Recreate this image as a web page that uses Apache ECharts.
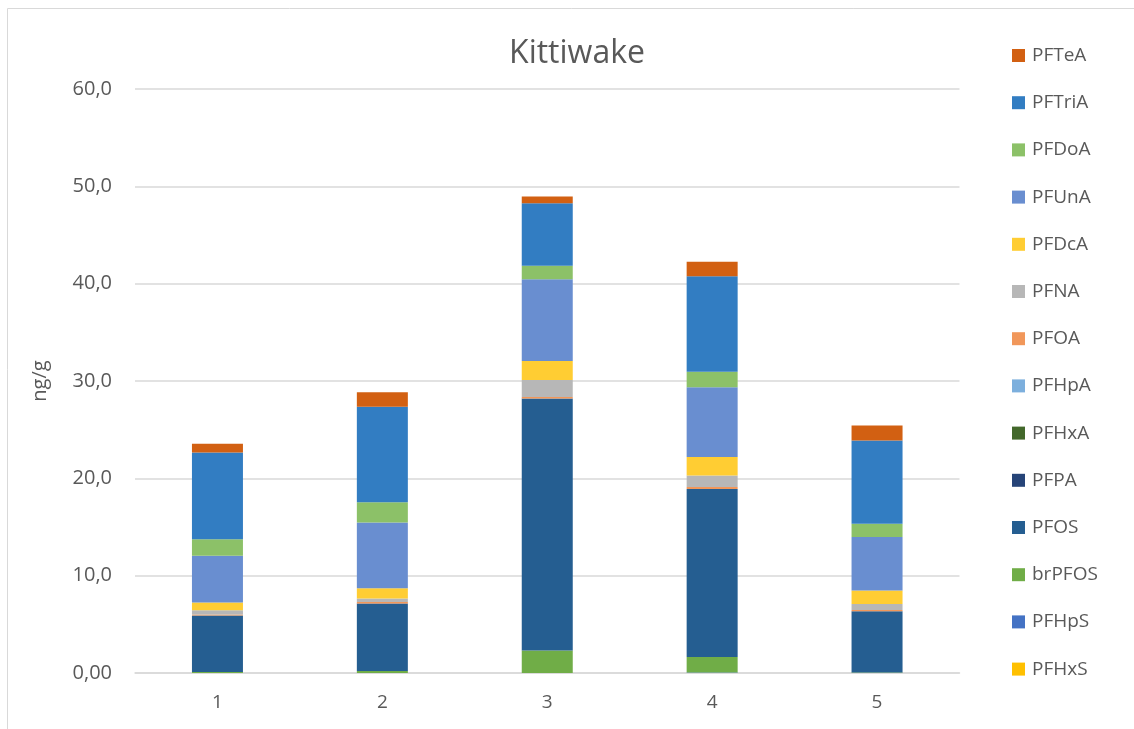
<!DOCTYPE html>
<html>
<head>
<meta charset="utf-8">
<script src="https://cdn.jsdelivr.net/npm/echarts@6/dist/echarts.min.js"></script>
<style>
  html, body { margin: 0; padding: 0; background: #ffffff; }
  #chart { width: 1134px; height: 729px; }
</style>
</head>
<body>
<div id="chart"></div>
<script>
// Sampling sites along the x axis
const categories = ['1', '2', '3', '4', '5'];

// Compound concentrations (ng/g), stacked bottom to top in this order
const PFHxS  = [0.00, 0.00, 0.00, 0.00, 0.00];
const PFHpS  = [0.00, 0.00, 0.00, 0.05, 0.00];
const brPFOS = [0.10, 0.20, 2.30, 1.60, 0.05];
const PFOS   = [5.80, 6.90, 25.90, 17.25, 6.30];
const PFPA   = [0.00, 0.05, 0.00, 0.00, 0.00];
const PFHxA  = [0.00, 0.00, 0.00, 0.00, 0.00];
const PFHpA  = [0.00, 0.00, 0.00, 0.00, 0.00];
const PFOA   = [0.10, 0.15, 0.15, 0.20, 0.13];
const PFNA   = [0.45, 0.35, 1.75, 1.20, 0.60];
const PFDcA  = [0.80, 1.05, 1.95, 1.90, 1.40];
const PFUnA  = [4.80, 6.75, 8.40, 7.15, 5.50];
const PFDoA  = [1.70, 2.10, 1.40, 1.60, 1.35];
const PFTriA = [8.90, 9.80, 6.40, 9.80, 8.55];
const PFTeA  = [0.90, 1.50, 0.70, 1.50, 1.55];

const yTicks = [0, 10, 20, 30, 40, 50, 60];

const seriesDefs = [
  ['PFHxS',  PFHxS,  '#FFC000'],
  ['PFHpS',  PFHpS,  '#4472C4'],
  ['brPFOS', brPFOS, '#70AD47'],
  ['PFOS',   PFOS,   '#255E91'],
  ['PFPA',   PFPA,   '#264478'],
  ['PFHxA',  PFHxA,  '#43682B'],
  ['PFHpA',  PFHpA,  '#7CAFDD'],
  ['PFOA',   PFOA,   '#F1975A'],
  ['PFNA',   PFNA,   '#B7B7B7'],
  ['PFDcA',  PFDcA,  '#FFCD33'],
  ['PFUnA',  PFUnA,  '#698ED0'],
  ['PFDoA',  PFDoA,  '#8CC168'],
  ['PFTriA', PFTriA, '#327DC2'],
  ['PFTeA',  PFTeA,  '#D26012']
];

const textColor = '#595959';
const fontFamily = '"Open Sans", "Liberation Sans", sans-serif';

const chart = echarts.init(document.getElementById('chart'));

chart.setOption({
  animation: false,
  textStyle: { fontFamily: fontFamily, color: textColor },
  title: {
    text: 'Kittiwake',
    left: 572,
    textAlign: 'center',
    top: 33,
    textStyle: { fontFamily: fontFamily, fontSize: 32, fontWeight: 'normal', color: textColor }
  },
  graphic: [{
    type: 'rect',
    shape: { x: 7.5, y: 8.5, width: 1300, height: 900 },
    style: { fill: 'none', stroke: '#d9d9d9', lineWidth: 1 },
    silent: true,
    z: -10
  }],
  legend: {
    orient: 'vertical',
    left: 1007,
    top: 41,
    itemWidth: 13,
    itemHeight: 13,
    itemGap: 28.2,
    icon: 'rect',
    data: seriesDefs.map(d => d[0]).reverse(),
    textStyle: { fontFamily: fontFamily, fontSize: 19, color: textColor, padding: [0, 0, 0, 2] }
  },
  grid: { left: 135, right: 174.5, top: 89, bottom: 56 },
  xAxis: {
    type: 'category',
    data: categories,
    axisLine: { lineStyle: { color: '#d9d9d9', width: 1.5 } },
    axisTick: { show: false },
    axisLabel: { color: textColor, fontSize: 19, margin: 20, fontFamily: fontFamily }
  },
  yAxis: {
    type: 'value',
    min: yTicks[0],
    max: yTicks[yTicks.length - 1],
    interval: 10,
    name: 'ng/g',
    nameLocation: 'middle',
    nameGap: 85,
    nameTextStyle: { color: textColor, fontSize: 20, fontFamily: fontFamily },
    axisLine: { show: false },
    axisTick: { show: false },
    splitLine: { lineStyle: { color: '#d9d9d9', width: 1.5 } },
    axisLabel: {
      color: textColor,
      fontSize: 20,
      margin: 23,
      fontFamily: fontFamily,
      formatter: v => v === 0 ? '0,00' : v.toFixed(1).replace('.', ',')
    }
  },
  series: seriesDefs.map(([name, values, color]) => ({
    name: name,
    type: 'bar',
    stack: 'total',
    data: values,
    barWidth: 51,
    itemStyle: { color: color },
    emphasis: { disabled: true }
  }))
});
</script>
</body>
</html>
